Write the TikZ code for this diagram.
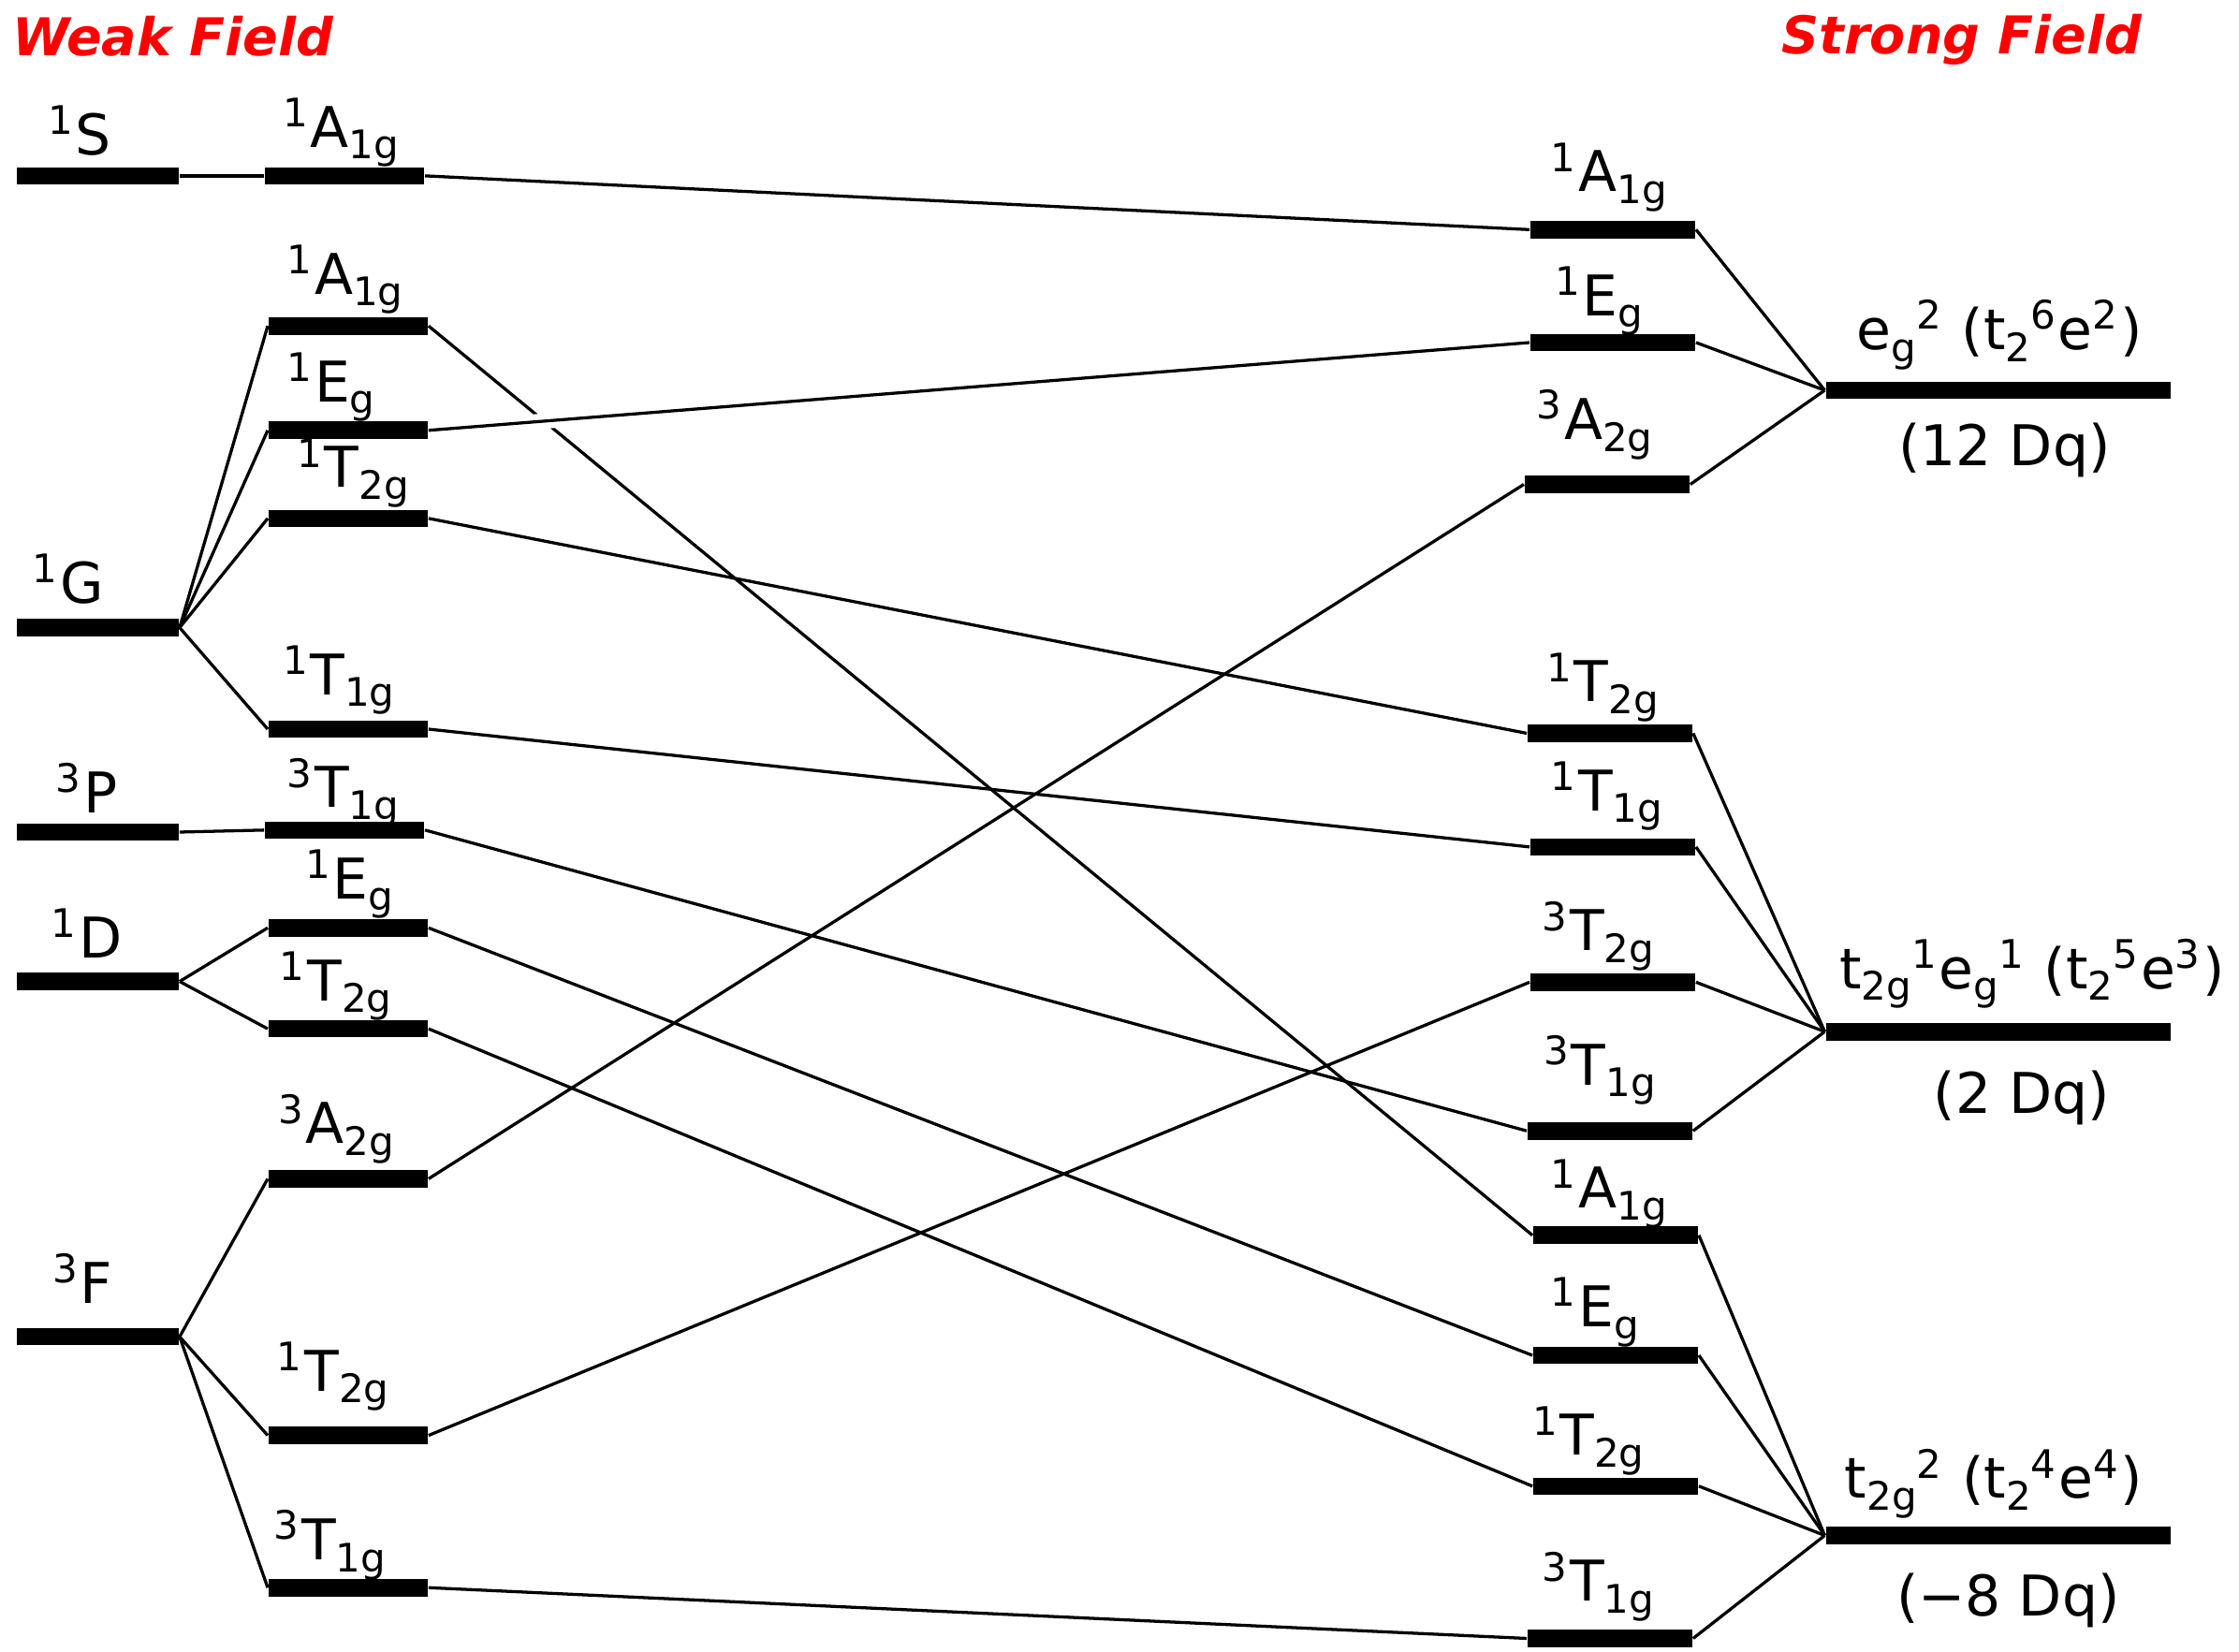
\documentclass[tikz,border=0pt]{standalone}
\usepackage{fontspec}
\setmainfont{DejaVu Sans}

\newcommand{\lowsub}[1]{\raisebox{-2.3pt}{\fontsize{7.7}{8}\selectfont#1}}
\newcommand{\term}[3]{\textsuperscript{#1}#2\lowsub{#3}}

\begin{document}
\begin{tikzpicture}[x=0.28pt, y=-0.28pt,
    lvl/.style={rectangle, fill=black, inner sep=0pt, minimum height=3.4pt},
    lvlL/.style={lvl, minimum width=31.6pt},
    lvlM/.style={lvl, minimum width=31.1pt},
    lvlR/.style={lvl, minimum width=32.2pt},
    lvlC/.style={lvl, minimum width=67.5pt},
    conn/.style={line width=0.6pt},
    lbl/.style={anchor=base west, inner sep=0pt, font=\fontsize{11}{13}\selectfont},
    cfg/.style={anchor=base, inner sep=0pt, font=\fontsize{11}{13}\selectfont},
    ttl/.style={anchor=base west, inner sep=0pt, text=red, font=\fontsize{10.2}{12}\selectfont\bfseries\itshape}]
    \useasboundingbox (0,0) rectangle (1566,1155);

    % titles
    \node[ttl] (weak) at (8,38.8) {Weak Field};
    \node[ttl] (strong) at (1245.6,37.7) {Strong Field};

    % free ion terms
    \node[lvlL] (S) at (68.5,123) {};
    \node[lvlL] (G) at (68.5,439) {};
    \node[lvlL] (P) at (68.5,582) {};
    \node[lvlL] (D) at (68.5,686.5) {};
    \node[lvlL] (F) at (68.5,935) {};
    \node[lbl] (Sl) at (33,108.4) {\textsuperscript{1}S};
    \node[lbl] (Gl) at (22,421.8) {\textsuperscript{1}G};
    \node[lbl] (Pl) at (38.5,568.6) {\textsuperscript{3}P};
    \node[lbl] (Dl) at (35,670) {\textsuperscript{1}D};
    \node[lbl] (Fl) at (36,911.6) {\textsuperscript{3}F};

    % weak field levels
    \node[lvlM] (wS) at (241,123) {};
    \node[lvlM] (wGa) at (243.5,228) {};
    \node[lvlM] (wGe) at (243.5,301) {};
    \node[lvlM] (wGt2) at (243.5,362.6) {};
    \node[lvlM] (wGt1) at (243.5,510) {};
    \node[lvlM] (wP) at (241,580.6) {};
    \node[lvlM] (wDe) at (243.5,649) {};
    \node[lvlM] (wDt2) at (243.5,719.6) {};
    \node[lvlM] (wFa) at (243.5,824.5) {};
    \node[lvlM] (wFt2) at (243.5,1004) {};
    \node[lvlM] (wFt1) at (243.5,1110.5) {};
    \node[lbl] (wSl) at (197,103) {\term{1}{A}{1g}};
    \node[lbl] (wGal) at (200,205.8) {\term{1}{A}{1g}};
    \node[lbl] (wGel) at (200,281) {\term{1}{E}{g}};
    \node[lbl] (wGt2l) at (207,341) {\term{1}{T}{2g}};
    \node[lbl] (wGt1l) at (197,485.8) {\term{1}{T}{1g}};
    \node[lbl] (wPl) at (200,564.8) {\term{3}{T}{1g}};
    \node[lbl] (wDel) at (213,628.7) {\term{1}{E}{g}};
    \node[lbl] (wDt2l) at (195,700) {\term{1}{T}{2g}};
    \node[lbl] (wFal) at (194,800) {\term{3}{A}{2g}};
    \node[lbl] (wFt2l) at (193,973) {\term{1}{T}{2g}};
    \node[lbl] (wFt1l) at (191,1091) {\term{3}{T}{1g}};

    % strong field levels
    \node[lvlR] (s1) at (1128,160.6) {};
    \node[lvlR] (s2) at (1128,239.6) {};
    \node[lvlR] (s3) at (1124,338.8) {};
    \node[lvlR] (s4) at (1126,512.9) {};
    \node[lvlR] (s5) at (1128,592.4) {};
    \node[lvlR] (s6) at (1128,687) {};
    \node[lvlR] (s7) at (1126,791) {};
    \node[lvlR] (s8) at (1130,864) {};
    \node[lvlR] (s9) at (1130,948) {};
    \node[lvlR] (s10) at (1130,1039.5) {};
    \node[lvlR] (s11) at (1126,1146) {};
    \node[lbl] (s1l) at (1084,134) {\term{1}{A}{1g}};
    \node[lbl] (s2l) at (1087,220.8) {\term{1}{E}{g}};
    \node[lbl] (s3l) at (1074,307.4) {\term{3}{A}{2g}};
    \node[lbl] (s4l) at (1081,490.8) {\term{1}{T}{2g}};
    \node[lbl] (s5l) at (1084,567) {\term{1}{T}{1g}};
    \node[lbl] (s6l) at (1078,665) {\term{3}{T}{2g}};
    \node[lbl] (s7l) at (1079,759) {\term{3}{T}{1g}};
    \node[lbl] (s8l) at (1084,845) {\term{1}{A}{1g}};
    \node[lbl] (s9l) at (1084,928) {\term{1}{E}{g}};
    \node[lbl] (s10l) at (1071,1018) {\term{1}{T}{2g}};
    \node[lbl] (s11l) at (1078,1120) {\term{3}{T}{1g}};

    % configurations
    \node[lvlC] (cE) at (1397.5,273) {};
    \node[lvlC] (cM) at (1397.5,721.6) {};
    \node[lvlC] (cT) at (1397.5,1074) {};
    \node[lbl] (cEl) at (1298,244.6) {e\lowsub{g}\textsuperscript{2} (t\lowsub{2}\textsuperscript{6}e\textsuperscript{2})};
    \node[cfg] (cEd) at (1402,326) {(12 Dq)};
    \node[lbl] (cMl) at (1286,691.6) {t\lowsub{2g}\textsuperscript{1}e\lowsub{g}\textsuperscript{1} (t\lowsub{2}\textsuperscript{5}e\textsuperscript{3})};
    \node[cfg] (cMd) at (1414,779) {(2 Dq)};
    \node[lbl] (cTl) at (1289.5,1048) {t\lowsub{2g}\textsuperscript{2} (t\lowsub{2}\textsuperscript{4}e\textsuperscript{4})};
    \node[cfg] (cTd) at (1404.5,1130) {(−8 Dq)};

    % splitting of the free ion terms
    \draw[conn] (S.east) -- (wS.west);
    \foreach \w in {wGa,wGe,wGt2,wGt1}
        \draw[conn] (G.east) -- (\w.west);
    \draw[conn] (P.east) -- (wP.west);
    \foreach \w in {wDe,wDt2}
        \draw[conn] (D.east) -- (\w.west);
    \foreach \w in {wFa,wFt2,wFt1}
        \draw[conn] (F.east) -- (\w.west);

    % correlation lines
    \draw[conn] (wS.east) -- (s1.west);
    \draw[conn] (wGa.east) -- (s8.west);
    \draw[conn, preaction={draw, white, line width=3pt}] (wGe.east) -- (s2.west);
    \draw[conn] (wGt2.east) -- (s4.west);
    \draw[conn] (wGt1.east) -- (s5.west);
    \draw[conn] (wP.east) -- (s7.west);
    \draw[conn] (wDe.east) -- (s9.west);
    \draw[conn] (wDt2.east) -- (s10.west);
    \draw[conn] (wFa.east) -- (s3.west);
    \draw[conn] (wFt2.east) -- (s6.west);
    \draw[conn] (wFt1.east) -- (s11.west);

    % strong field levels to configurations
    \foreach \s in {s1,s2,s3}
        \draw[conn] (\s.east) -- (cE.west);
    \foreach \s in {s4,s5,s6,s7}
        \draw[conn] (\s.east) -- (cM.west);
    \foreach \s in {s8,s9,s10,s11}
        \draw[conn] (\s.east) -- (cT.west);
\end{tikzpicture}
\end{document}
